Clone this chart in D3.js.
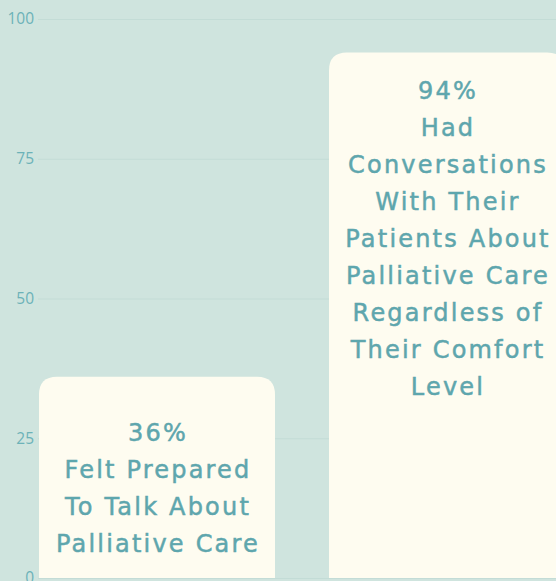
<!DOCTYPE html>
<html><head><meta charset="utf-8">
<script src="https://cdn.jsdelivr.net/npm/d3@7"></script>
<style>
html,body{margin:0;padding:0;background:#cfe4de;}
svg{display:block;}
</style></head>
<body>
<script>
const categories = ["Felt Prepared", "Had Conversations"];
const values = [36, 94];
const labels = [
  ["36%", "Felt Prepared", "To Talk About", "Palliative Care"],
  ["94%", "Had", "Conversations", "With Their", "Patients About", "Palliative Care", "Regardless of", "Their Comfort", "Level"]
];
const yTicks = [0, 25, 50, 75, 100];

const W = 556, H = 581;
const bg = "#cfe4de", barColor = "#fefcf0", textColor = "#5ea6ad", tickColor = "#6cb2b8";

const svg = d3.select("body").append("svg").attr("width", W).attr("height", H);
svg.append("rect").attr("width", W).attr("height", H).attr("fill", bg);

const y = d3.scaleLinear().domain([0, 100]).range([578, 19]);
const x = d3.scaleBand().domain(categories).range([12, 592]).paddingInner(54/290).paddingOuter(27/290);

// gridlines
svg.append("g").selectAll("line").data(yTicks).join("line")
  .attr("x1", 38).attr("x2", W)
  .attr("y1", d => y(d) + 0.5).attr("y2", d => y(d) + 0.5)
  .attr("stroke", "#c3dcd6").attr("stroke-width", 1);

// axis labels
const axis = d3.axisLeft(y).tickValues(yTicks).tickSize(0).tickPadding(0);
const ag = svg.append("g").attr("transform", "translate(34,0)").call(axis);
ag.select(".domain").remove();
ag.selectAll("text").attr("fill", tickColor).attr("font-family", "'Open Sans', sans-serif").attr("font-size", 15.5);

// bars with rounded tops
const r = 18;
function barPath(x0, x1, yt, yb) {
  return `M${x0},${yb}V${yt + r}Q${x0},${yt} ${x0 + r},${yt}H${x1 - r}Q${x1},${yt} ${x1},${yt + r}V${yb}Z`;
}
svg.append("g").selectAll("path").data(categories).join("path")
  .attr("d", (c, i) => barPath(x(c), x(c) + x.bandwidth(), y(values[i]), y(0)))
  .attr("fill", barColor);

// labels
const topOffset = [55.5, 37.5];
const lh = 37;
categories.forEach((c, i) => {
  const cx = x(c) + x.bandwidth() / 2;
  const t = svg.append("text")
    .attr("text-anchor", "middle")
    .attr("fill", textColor)
    .attr("stroke", textColor)
    .attr("stroke-width", 0.5)
    .attr("font-family", "'DejaVu Sans', sans-serif")
    .attr("font-size", 24)
    .attr("letter-spacing", "2.2px");
  labels[i].forEach((line, j) => {
    t.append("tspan").attr("x", cx + 1)
      .attr("y", y(values[i]) + topOffset[i] + j * lh)
      .attr("dy", "0.36em")
      .text(line);
  });
});
</script>
</body></html>
